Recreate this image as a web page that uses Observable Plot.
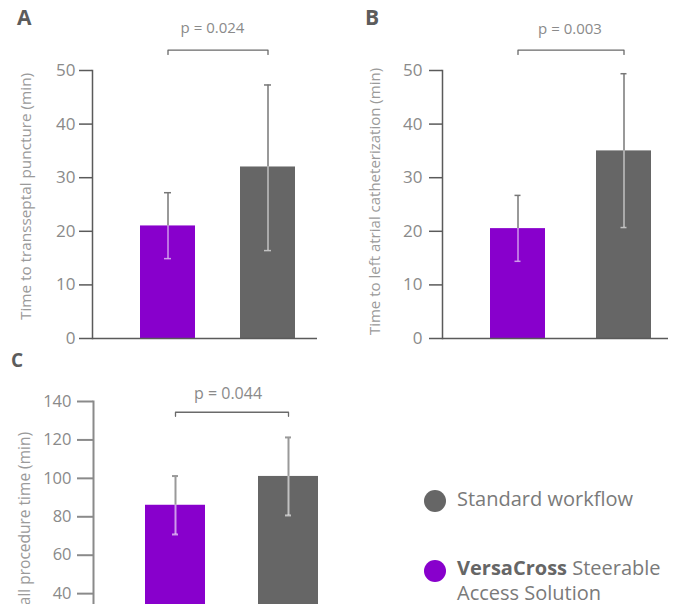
<!DOCTYPE html>
<html><head><meta charset="utf-8">
<script src="https://cdn.jsdelivr.net/npm/d3@7"></script>
<script src="https://cdn.jsdelivr.net/npm/@observablehq/plot@0.6"></script>
<style>
html,body{margin:0;padding:0;background:#fff;}
body{width:679px;height:604px;overflow:hidden;font-family:"Open Sans",sans-serif;}
#root{position:relative;width:679px;height:604px;overflow:hidden;}
.panel{position:absolute;}
.panel svg{display:block;max-width:none;}
.letter{position:absolute;font-weight:700;color:#5c5c5c;line-height:1;}
.leg{position:absolute;color:#7a7a7a;font-size:20px;}
.dot{position:absolute;width:22px;height:22px;border-radius:50%;}
</style></head>
<body><div id="root"></div>
<script>
// ---- data ----
const groups = ["VersaCross Steerable Access Solution", "Standard workflow"];
const groupColors = ["#8800cc", "#666666"];
const transseptalMean = [21.0, 32.0];
const transseptalLow = [14.9, 16.4];
const transseptalHigh = [27.2, 47.3];
const laCathMean = [20.5, 35.0];
const laCathLow = [14.4, 20.7];
const laCathHigh = [26.7, 49.4];
const overallMean = [86, 101];
const overallLow = [70.8, 80.7];
const overallHigh = [101.2, 121.3];
const pValues = ["p = 0.024", "p = 0.003", "p = 0.044"];
const yLabels = ["Time to transseptal puncture (min)", "Time to left atrial catheterization (min)", "Overall procedure time (min)"];
const panelLetters = ["A", "B", "C"];
const ticksAB = [0, 10, 20, 30, 40, 50];
const ticksC = [0, 20, 40, 60, 80, 100, 120, 140];
const bracketA = [53.0, 53.8];
const bracketB = [53.0, 53.8];
const bracketC = [132.3, 134.4];

const root = document.getElementById("root");

function makePanel(cfg) {
  const rows = groups.map((g, i) => ({g, mean: cfg.mean[i], low: cfg.low[i], high: cfg.high[i]}));
  const br = [
    {g: groups[0], y: cfg.bracket[0]}, {g: groups[0], y: cfg.bracket[1]},
    {g: groups[1], y: cfg.bracket[1]}, {g: groups[1], y: cfg.bracket[0]}
  ];
  const capInset = cfg.capInset;
  return Plot.plot({
    width: cfg.width, height: cfg.height,
    marginLeft: cfg.ml, marginRight: cfg.mr, marginTop: cfg.mt, marginBottom: cfg.mb,
    style: {background: "transparent", fontFamily: "'Open Sans', sans-serif", overflow: "visible"},
    x: {domain: groups, axis: null, paddingInner: cfg.pi, paddingOuter: cfg.po, align: cfg.align},
    y: {domain: cfg.domain, axis: null},
    color: {domain: groups, range: groupColors},
    marks: [
      Plot.barY(rows, {x: "g", y: "mean", fill: "g"}),
      Plot.ruleX(rows, {x: "g", y1: "mean", y2: "high", stroke: cfg.errDark, strokeWidth: cfg.errW}),
      Plot.ruleX(rows, {x: "g", y1: "low", y2: "mean", stroke: "#ffffff", strokeOpacity: 0.6, strokeWidth: cfg.errW}),
      Plot.tickY(rows, {x: "g", y: "high", stroke: cfg.errDark, strokeWidth: cfg.errW, insetLeft: capInset, insetRight: capInset}),
      Plot.tickY(rows, {x: "g", y: "low", stroke: "#ffffff", strokeOpacity: 0.6, strokeWidth: cfg.errW, insetLeft: capInset, insetRight: capInset}),
      Plot.ruleY([cfg.domain[0]], {stroke: cfg.axisColor, strokeWidth: cfg.axisW}),
      Plot.frame({anchor: "left", stroke: cfg.axisColor, strokeWidth: cfg.axisW}),
      Plot.axisY({ticks: cfg.ticks, tickSize: cfg.tickSize, tickPadding: cfg.tickPadding, label: null,
        stroke: cfg.axisColor, strokeWidth: cfg.axisW, fill: "#8a8a8a", fontSize: cfg.tickFont, tickFormat: d => String(d)}),
      Plot.line(br, {x: "g", y: "y", stroke: "#6a6a6a", strokeWidth: 1.3}),
      Plot.text([cfg.p], {y: () => cfg.bracket[1], text: d => d, frameAnchor: "middle", dx: cfg.pdx, dy: cfg.pdy,
        fontSize: cfg.pFont, fill: "#8a8a8a"}),
      Plot.text([cfg.label], {text: d => d, frameAnchor: "left", textAnchor: "middle", lineAnchor: "middle",
        rotate: -90, dx: cfg.ldx, dy: cfg.ldy, fontSize: cfg.labelFont, fill: "#9a9a9a"})
    ]
  });
}

function place(svg, left, top, w) {
  const d = document.createElement("div");
  d.className = "panel";
  d.style.left = left + "px"; d.style.top = top + "px"; d.style.width = w + "px";
  d.appendChild(svg);
  root.appendChild(d);
}

place(makePanel({
  mean: transseptalMean, low: transseptalLow, high: transseptalHigh,
  label: yLabels[0], p: pValues[0], ticks: ticksAB, domain: [0, 50], bracket: bracketA,
  width: 340, height: 350, ml: 92, mr: 23, mt: 70, mb: 12,
  pi: 0.45, po: 0.35, align: 0.686, capInset: 24,
  errDark: "#777777", errW: 1.5, axisColor: "#5a5a5a", axisW: 1.5,
  tickSize: 13, tickPadding: 4, tickFont: 17, pFont: 15, pdx: 7.5, pdy: -21.5,
  labelFont: 15.3, ldx: -66.5, ldy: -8
}), 0, 0, 340);

place(makePanel({
  mean: laCathMean, low: laCathLow, high: laCathHigh,
  label: yLabels[1], p: pValues[1], ticks: ticksAB, domain: [0, 50], bracket: bracketB,
  width: 339, height: 350, ml: 102, mr: 11, mt: 70, mb: 12,
  pi: 0.477, po: 0.295, align: 0.746, capInset: 24.5,
  errDark: "#777777", errW: 1.5, axisColor: "#5a5a5a", axisW: 1.5,
  tickSize: 13, tickPadding: 7, tickFont: 17, pFont: 15, pdx: 14.5, pdy: -20.5,
  labelFont: 15, ldx: -67, ldy: -3
}), 340, 0, 339);

place(makePanel({
  mean: overallMean, low: overallLow, high: overallHigh,
  label: yLabels[2], p: pValues[2], ticks: ticksC, domain: [0, 140], bracket: bracketC,
  width: 340, height: 340, ml: 93, mr: 0, mt: 61, mb: 10,
  pi: 0.469, po: 0.327, align: 0.707, capInset: 27,
  errDark: "#999999", errW: 2, axisColor: "#8a8a8a", axisW: 2,
  tickSize: 16, tickPadding: 6, tickFont: 16.5, pFont: 16, pdx: 11, pdy: -18,
  labelFont: 15.5, ldx: -68, ldy: 0
}), 0, 340, 340);

// panel letters
[[panelLetters[0], 17, 7, 21], [panelLetters[1], 365, 7, 21], [panelLetters[2], 11, 351, 19]].forEach(([t, x, y, s]) => {
  const el = document.createElement("div");
  el.className = "letter"; el.textContent = t;
  el.style.left = x + "px"; el.style.top = y + "px"; el.style.fontSize = s + "px"; el.style.lineHeight = s + "px";
  root.appendChild(el);
});

// legend
function legendItem(color, top, dotTop, html) {
  const dot = document.createElement("div");
  dot.className = "dot"; dot.style.background = color;
  dot.style.left = "424px"; dot.style.top = dotTop + "px";
  root.appendChild(dot);
  const t = document.createElement("div");
  t.className = "leg"; t.style.left = "457px"; t.style.top = top + "px"; t.style.lineHeight = "25px";
  t.innerHTML = html;
  root.appendChild(t);
}
legendItem(groupColors[1], 486, 490, groups[1]);
legendItem(groupColors[0], 555, 560, '<b style="font-weight:700;color:#666">VersaCross</b> Steerable<br>Access Solution');
</script>
</body></html>
